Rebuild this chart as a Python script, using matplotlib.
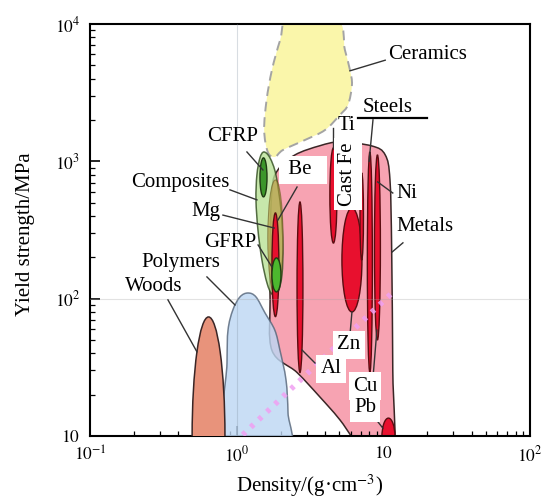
import numpy as np
import matplotlib
matplotlib.use('Agg')
import matplotlib.pyplot as plt
from matplotlib.path import Path
from matplotlib.patches import PathPatch

plt.rcParams['font.family'] = ['Liberation Serif', 'DejaVu Serif']
plt.rcParams['mathtext.fontset'] = 'stix'

# envelope outlines: density (g/cm3), yield strength (MPa)
ceramics_rho = [2.31, 1.98, 1.74, 1.60, 1.54, 1.63, 1.82, 2.07, 2.92, 4.0, 5.06, 5.74, 6.11, 5.92, 5.47, 4.83]
ceramics_sig = [12000, 7650, 4630, 2800, 1690, 1170, 1077, 1210, 1430, 1690, 2180, 2575, 3600, 4630, 6470, 11000]

metals_rho = [1.74, 1.91, 2.50, 3.70, 5.06, 8.36, 10.3, 11.1, 11.4, 11.6, 11.7, 7.9, 5.06, 3.70, 2.58, 1.74, 1.69, 1.69]
metals_sig = [620, 866, 1114, 1300, 1383, 1294, 1114, 732, 227, 30, 7, 7, 13.1, 19.2, 29, 42, 98, 227]

polymers_rho = [0.845, 0.859, 0.873, 0.942, 1.053, 1.194, 1.354, 1.56, 1.82, 1.97, 2.17, 2.24, 2.24]
polymers_sig = [8, 34, 59, 82.8, 103, 110, 103, 78.8, 59, 42.4, 25.6, 14.7, 8]

composites_rho = [1.535, 1.687, 1.853, 2.005, 2.068, 2.036, 1.913, 1.741, 1.610, 1.487, 1.397, 1.354, 1.374, 1.442]
composites_sig = [1170, 1060, 796, 443, 246, 149, 112, 108, 130, 191, 316, 524, 796, 1060]

# single-material bubbles: density range and strength range
alloy_names = ['Ti', 'Zn', 'Al', 'Cast Fe', 'Steel', 'Ni', 'Pb']
alloy_rho_lo = [4.32, 5.22, 2.58, 6.93, 7.78, 8.70, 9.78]
alloy_rho_hi = [4.83, 7.15, 2.83, 7.32, 8.42, 9.55, 12.0]
alloy_sig_lo = [254, 80, 29, 191, 29, 50, 7.2]
alloy_sig_hi = [1253, 458, 506, 824, 1170, 1114, 13.5]

woods_range = [0.497, 0.832, 1.36, 73.6]
be_range = [1.63, 2.07, 106, 732]
mg_range = [1.74, 1.94, 74, 421]
cfrp_range = [1.442, 1.61, 551, 1060]
gfrp_range = [1.74, 2.005, 112, 198]

# constant strength/density guide (dotted)
guide_rho = [1.10, 11.45]
guide_sig = [10.2, 110]


def closed_curve(rho, sig):
    pts = np.log10(np.column_stack([rho, sig]))
    n = len(pts)
    verts = [pts[0]]
    codes = [Path.MOVETO]
    for i in range(n):
        p0, p1, p2, p3 = pts[i - 1], pts[i], pts[(i + 1) % n], pts[(i + 2) % n]
        verts += [p1 + (p2 - p0) / 6, p2 - (p3 - p1) / 6, p2]
        codes += [Path.CURVE4] * 3
    verts.append(pts[0])
    codes.append(Path.CLOSEPOLY)
    return Path(10 ** np.array(verts), codes)


def ellipse(r):
    c = Path.unit_circle()
    lx = np.log10(r[:2])
    ly = np.log10(r[2:])
    v = c.vertices * [(lx[1] - lx[0]) / 2, (ly[1] - ly[0]) / 2] + [lx.mean(), ly.mean()]
    return Path(10 ** v, c.codes)


fig = plt.figure(figsize=(5.42, 5.01), dpi=100)
ax = fig.add_axes([90 / 542, 65 / 501, 440 / 542, 412 / 501])
ax.set_xscale('log')
ax.set_yscale('log')
ax.set_xlim(0.1, 100)
ax.set_ylim(10, 10000)

edge = '#3a2626'
ax.add_patch(PathPatch(closed_curve(ceramics_rho, ceramics_sig), fc='#faf6aa',
                       ec='#a4a4a4', lw=1.4, ls=(0, (5, 3)), zorder=1))
ax.add_patch(PathPatch(closed_curve(metals_rho, metals_sig), fc='#f7a3b2',
                       ec=edge, lw=1.1, zorder=1))
for i in range(len(alloy_names)):
    r = [alloy_rho_lo[i], alloy_rho_hi[i], alloy_sig_lo[i], alloy_sig_hi[i]]
    ax.add_patch(PathPatch(ellipse(r), fc='#e8102e', ec='#5a0c10', lw=1.0, zorder=2))

ax.add_patch(PathPatch(closed_curve(polymers_rho, polymers_sig), fc='#bdd7f3',
                       ec='#56667a', lw=1.1, alpha=0.82, zorder=3))
ax.add_patch(PathPatch(ellipse(woods_range), fc='#e8937b', ec=edge, lw=1.1, zorder=3))
ax.add_patch(PathPatch(closed_curve(composites_rho, composites_sig), fc='#b9e296',
                       ec='#2e4a1c', lw=1.1, alpha=0.8, zorder=3))
ax.add_patch(PathPatch(ellipse(be_range), fc='#b89a3c', ec='#6a5a20', lw=0.8, alpha=0.6, zorder=3.2))
ax.add_patch(PathPatch(ellipse(mg_range), fc='#e8102e', ec='#5a0c10', lw=1.0, zorder=3.4))
ax.add_patch(PathPatch(ellipse(cfrp_range), fc='#3c962a', ec='#1e3a12', lw=1.0, zorder=3.5))
ax.add_patch(PathPatch(ellipse(gfrp_range), fc='#4cb82e', ec='#1e3a12', lw=1.0, zorder=3.5))

ax.plot(guide_rho, guide_sig, color='#f0a0f2', lw=4, ls=(0, (0.7, 1.3)), alpha=0.85, zorder=3.55)

ax.axvline(1, color='#8090a0', lw=0.8, alpha=0.3, zorder=3.6)
ax.axhline(100, color='#a0a0a0', lw=0.8, alpha=0.3, zorder=3.6)

# labels: text, position, boxed, leader line (from, to)
labels = [
    ('Ceramics', 20.0, 6000, False, (10.3, 5450), (5.92, 4560)),
    ('Steels', 10.75, 2450, False, (8.5, 2005), (8.0, 1000)),
    ('Ti', 5.65, 1810, False, (4.53, 1750), (4.53, 1250)),
    ('Cast Fe', 5.74, 809, True, None, None),
    ('Be', 2.83, 865, True, (2.58, 650), (1.91, 373)),
    ('Ni', 14.5, 588, False, (11.6, 588), (9.15, 708)),
    ('Metals', 19.2, 333, False, (13.6, 255), (11.5, 219)),
    ('CFRP', 0.936, 1510, False, (1.175, 1170), (1.51, 865)),
    ('Composites', 0.41, 697, False, (0.90, 620), (1.375, 524)),
    ('Mg', 0.618, 428, False, (0.806, 406), (1.80, 327)),
    ('GFRP', 0.90, 255, False, (1.40, 246), (1.74, 170)),
    ('Polymers', 0.418, 182, False, (0.627, 144), (0.974, 90)),
    ('Woods', 0.273, 122, False, (0.34, 98), (0.536, 41)),
    ('Zn', 5.83, 46, True, (6.11, 80), (5.92, 54.3)),
    ('Al', 4.40, 30.8, True, (2.79, 42.3), (3.42, 34)),
    ('Cu', 7.49, 23.1, True, (9.04, 59), (8.51, 26.9)),
    ('Pb', 7.49, 16.0, True, (8.77, 13.5), (9.93, 11.4)),
]
for name, x, y, box, p0, p1 in labels:
    kw = {}
    if box:
        kw['bbox'] = dict(fc='white', ec='none', pad=3)
    rot = 90 if name == 'Cast Fe' else 0
    txt = ' Be  ' if name == 'Be' else name
    ax.text(x, y, txt, fontsize=15, ha='center', va='center', rotation=rot, zorder=6, **kw)
    if p0:
        ax.plot([p0[0], p1[0]], [p0[1], p1[1]], color='#333333', lw=1.0, zorder=5)
ax.plot([6.71, 19.8], [2070, 2070], color='black', lw=1.6, zorder=5)

ax.set_xticks([0.1, 1, 10, 100])
ax.set_xticklabels([r'$10^{-1}$', r'$10^{0}$', r'$10$', r'$10^{2}$'])
ax.set_yticks([10, 100, 1000, 10000])
ax.set_yticklabels([r'$10$', r'$10^{2}$', r'$10^{3}$', r'$10^{4}$'])
ax.tick_params(which='both', direction='in', top=False, right=False, labelsize=12.5)
ax.tick_params(which='major', length=7, width=1.2, pad=7)
ax.tick_params(which='minor', length=3.5, width=0.9)
for s in ax.spines.values():
    s.set_linewidth(1.5)

ax.set_xlabel('Density/(g·cm$^{-3}$)', fontsize=15, labelpad=5)
ax.set_ylabel('Yield strength/MPa', fontsize=15)
ax.yaxis.set_label_coords(-0.125, 0.49)

fig.savefig('out.png', dpi=100)
